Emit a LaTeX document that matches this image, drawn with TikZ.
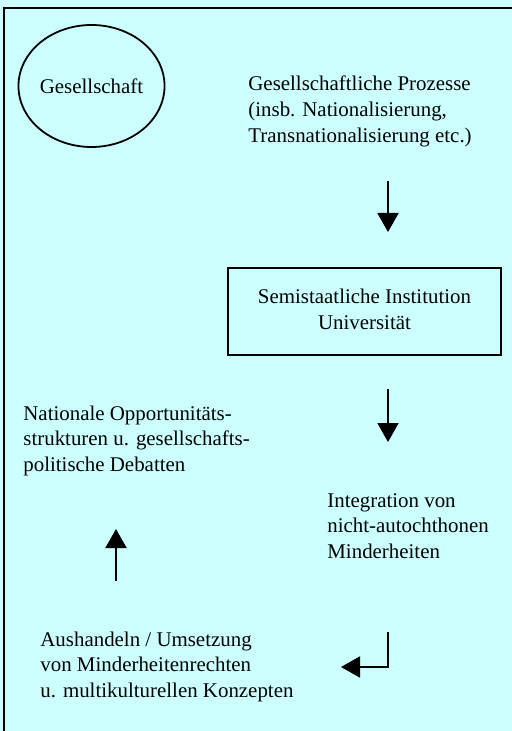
\documentclass[tikz,border=0pt]{standalone}
\usepackage{fontspec}
\setmainfont{Liberation Serif}
\usetikzlibrary{arrows.meta,shapes.geometric}
\definecolor{bgc}{RGB}{204,255,255}
\tikzset{
  txt/.style={inner sep=0pt, anchor=base west, font=\fontsize{10.45pt}{12.85pt}\selectfont},
  conn/.style={line width=1pt, -{Triangle[width=10.5pt,length=9.5pt]}},
  frame/.style={line width=1pt},
  shapeline/.style={draw, line width=0.9pt, inner sep=0pt, font=\fontsize{10.45pt}{12.85pt}\selectfont}
}
\begin{document}
\begin{tikzpicture}[x=0.5pt,y=-0.5pt]
\useasboundingbox (0,0) rectangle (512,731);
\clip (0,0) rectangle (512,731);
\fill[bgc] (0,0) rectangle (512,731);
\draw[frame] (4,740) -- (4,8) -- (520,8);
% ellipse
\node[shapeline, ellipse, minimum width=72.5pt, minimum height=61pt] (gesell) at (91.5,86) {Gesellschaft};
% texts
\node[txt] (proc) at (248,91) {\begin{tabular}[t]{@{}l@{}}Gesellschaftliche Prozesse\\(insb. Nationalisierung,\\Transnationalisierung etc.)\end{tabular}};
\node[shapeline, rectangle, minimum width=136.5pt, minimum height=43.5pt] (uni) at (364.5,311.5) {\begin{tabular}{@{}c@{}}Semistaatliche Institution\\Universität\end{tabular}};
\node[txt] (nat) at (23,420) {\begin{tabular}[t]{@{}l@{}}Nationale Opportunitäts-\\strukturen u. gesellschafts-\\politische Debatten\end{tabular}};
\node[txt] (integ) at (327,507) {\begin{tabular}[t]{@{}l@{}}Integration von\\nicht-autochthonen\\Minderheiten\end{tabular}};
\node[txt] (aush) at (40,646) {\begin{tabular}[t]{@{}l@{}}Aushandeln / Umsetzung\\von Minderheitenrechten\\u. multikulturellen Konzepten\end{tabular}};
% arrow coordinates
\coordinate (a1s) at (388,181);
\coordinate (a1e) at (388,232);
\coordinate (a2s) at (388,389);
\coordinate (a2e) at (388,442);
\coordinate (a3s) at (388,632);
\coordinate (a3m) at (388,667);
\coordinate (a3e) at (341,667);
\coordinate (a4s) at (116,581);
\coordinate (a4e) at (116,529);
\draw[conn] (a1s) -- (a1e);
\draw[conn] (a2s) -- (a2e);
\draw[conn] (a3s) -- (a3m) -- (a3e);
\draw[conn] (a4s) -- (a4e);
\end{tikzpicture}
\end{document}
